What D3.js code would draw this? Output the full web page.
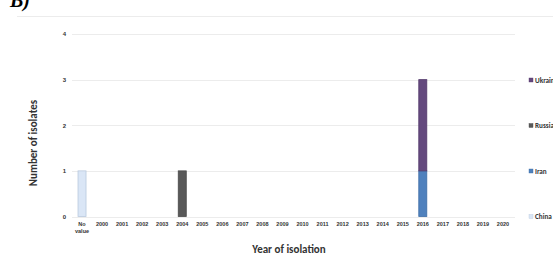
<!DOCTYPE html>
<html><head><meta charset="utf-8">
<script src="https://cdn.jsdelivr.net/npm/d3@7/dist/d3.min.js"></script>
<style>body{margin:0;background:#fff;}svg{display:block;font-family:Calibri,Carlito,"Open Sans","Liberation Sans",Arial,sans-serif;}</style>
</head><body>
<script>
const categories = ["No value","2000","2001","2002","2003","2004","2005","2006","2007","2008","2009","2010","2011","2012","2013","2014","2015","2016","2017","2018","2019","2020"];
const seriesNames = ["China","Iran","Russia","Ukraine"];
const china   = [1,0,0,0,0,0,0,0,0,0,0,0,0,0,0,0,0,0,0,0,0,0];
const iran    = [0,0,0,0,0,0,0,0,0,0,0,0,0,0,0,0,0,1,0,0,0,0];
const russia  = [0,0,0,0,0,1,0,0,0,0,0,0,0,0,0,0,0,0,0,0,0,0];
const ukraine = [0,0,0,0,0,0,0,0,0,0,0,0,0,0,0,0,0,2,0,0,0,0];
const yTicks = [0,1,2,3,4];
const colors = {China:"#dae6f6",Iran:"#4f81bd",Russia:"#595959",Ukraine:"#64497e"};
const strokes = {China:"#b9c9de",Iran:"#3e6da6",Russia:"#4a4a4a",Ukraine:"#54396c"};

const W=553,H=269;
const svg=d3.select("body").append("svg").attr("width",W).attr("height",H);
svg.append("text").attr("x",10).attr("y",7).attr("font-size",20).attr("font-weight","bold").attr("font-style","italic").attr("font-family","Liberation Serif, serif").text("B)");
svg.append("line").attr("x1",17).attr("x2",W).attr("y1",16.5).attr("y2",16.5).attr("stroke","#ececec");

const x=d3.scaleBand().domain(categories).range([72,513]).paddingInner(0.6).paddingOuter(0.3);
const y=d3.scaleLinear().domain([0,4]).range([216.5,34]);

const g=svg.append("g");
g.selectAll(".grid").data(yTicks).join("line").attr("x1",72).attr("x2",515)
 .attr("y1",d=>Math.round(y(d))+0.5).attr("y2",d=>Math.round(y(d))+0.5).attr("stroke","#ececec");

const yAxis=d3.axisLeft(y).tickValues(yTicks).tickSize(0).tickPadding(6).tickFormat(d3.format("d"));
const ya=svg.append("g").attr("transform","translate(72,0)").call(yAxis);
ya.select(".domain").remove();
ya.selectAll("text").attr("font-size",6).attr("font-weight","bold").attr("fill","#333");

const data=categories.map((c,i)=>({cat:c,China:china[i],Iran:iran[i],Russia:russia[i],Ukraine:ukraine[i]}));
const stack=d3.stack().keys(seriesNames)(data);
svg.append("g").selectAll("g").data(stack).join("g")
 .attr("fill",d=>colors[d.key]).attr("stroke",d=>strokes[d.key]).attr("stroke-width",0.8)
 .selectAll("rect").data(d=>d.filter(p=>p[1]>p[0])).join("rect")
 .attr("x",d=>x(d.data.cat)).attr("width",x.bandwidth())
 .attr("y",d=>y(d[1])).attr("height",d=>y(d[0])-y(d[1]));

const xAxis=d3.axisBottom(x).tickSize(0).tickPadding(6);
const xa=svg.append("g").attr("transform","translate(0,216.5)").call(xAxis);
xa.select(".domain").remove();
xa.selectAll("text").attr("font-size",5.5).attr("font-weight","bold").attr("fill","#333");
xa.selectAll(".tick text").filter(d=>d==="No value").text(null).each(function(){
  const t=d3.select(this);
  t.append("tspan").attr("x",0).attr("dy","0.71em").text("No");
  t.append("tspan").attr("x",0).attr("dy","1.2em").text("value");
}).attr("dy",null);

svg.append("text").attr("transform","translate(37,143) rotate(-90)").attr("text-anchor","middle")
 .attr("font-size",11).attr("font-weight","bold").attr("fill","#333").text("Number of isolates");
svg.append("text").attr("x",289).attr("y",253).attr("text-anchor","middle")
 .attr("font-size",11).attr("font-weight","bold").attr("fill","#333").text("Year of isolation");

const legendItems=[...seriesNames].reverse();
const lg=svg.append("g").selectAll("g").data(legendItems).join("g")
 .attr("transform",(d,i)=>`translate(529,${80+i*45.5})`);
lg.append("rect").attr("x",0).attr("y",-2).attr("width",4).attr("height",4).attr("fill",d=>colors[d]).attr("stroke",d=>strokes[d]).attr("stroke-width",0.4);
lg.append("text").attr("x",6).attr("y",2.5).attr("font-size",7.2).attr("font-weight","bold").attr("fill","#333").text(d=>d);
</script>
</body></html>
